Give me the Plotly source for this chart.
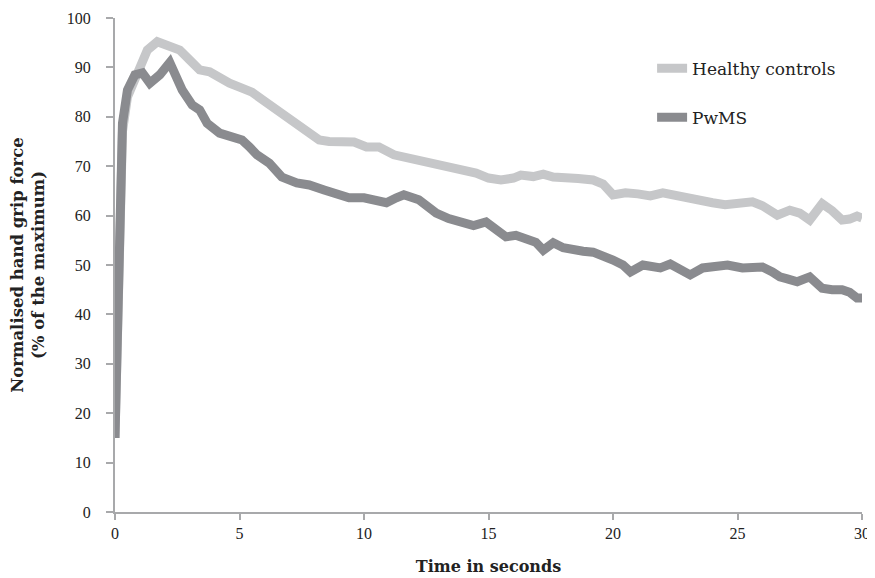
import plotly.graph_objects as go

# Healthy controls
t_healthy = [0, 0.07, 0.12, 0.2, 0.3, 0.5, 0.8, 1.0, 1.3, 1.7, 2.0,
             2.2, 2.6, 3.0, 3.4, 3.8, 4.3, 4.6, 5.0, 5.5, 6.1,
             6.7, 7.5, 8.2, 8.6, 9.0, 9.6, 10.1, 10.6, 11.2, 11.7,
             12.2, 12.7, 13.2, 13.9, 14.5, 15.0, 15.5, 16.0, 16.3, 16.8,
             17.2, 17.6, 18.1, 18.6, 19.2, 19.6, 20.0, 20.5, 21.0, 21.5,
             22.0, 22.5, 23.0, 23.5, 24.0, 24.5, 25.0, 25.6, 26.0, 26.6,
             27.1, 27.5, 27.9, 28.4, 28.8, 29.2, 29.5, 29.8, 30.0]
v_healthy = [15, 29, 48, 68, 77, 84, 88, 90.5, 93.5, 95.2, 94.7,
             94.1, 93.5, 91.5, 89.5, 89.1, 87.4, 86.8, 86.0, 85.0, 82.8,
             80.8, 77.9, 75.3, 75.0, 74.9, 74.9, 73.9, 73.9, 72.3, 71.8,
             70.9, 70.6, 70.2, 69.6, 68.6, 67.6, 67.2, 67.6, 68.2, 67.9,
             68.4, 67.8, 67.8, 67.5, 67.2, 66.4, 64.2, 64.6, 64.4, 64.0,
             64.6, 64.0, 63.8, 63.2, 62.6, 62.2, 62.3, 62.8, 62.0, 60.1,
             61.1, 60.5, 59.1, 62.4, 61.0, 59.1, 59.3, 59.9, 59.5]

# PwMS
t_pwms = [0, 0.07, 0.12, 0.2, 0.3, 0.5, 0.8, 1.1, 1.4, 1.8,
          2.2, 2.7, 3.1, 3.4, 3.7, 4.2, 4.7, 5.1, 5.4, 5.7,
          6.2, 6.7, 7.3, 7.8, 8.4, 8.9, 9.4, 10.0, 10.5, 10.9,
          11.3, 11.6, 12.2, 12.9, 13.4, 13.9, 14.4, 14.9, 15.3, 15.7,
          16.1, 16.5, 16.9, 17.2, 17.6, 18.0, 18.4, 18.8, 19.2, 19.6,
          20.0, 20.4, 20.7, 21.2, 21.6, 21.9, 22.3, 22.7, 23.1, 23.6,
          24.1, 24.6, 25.2, 25.6, 26.0, 26.4, 26.7, 27.0, 27.4, 27.9,
          28.4, 28.8, 29.2, 29.5, 29.8, 30.0]
v_pwms = [15, 30, 50, 70.6, 78.7, 85.4, 88.5, 88.9, 86.8, 88.5,
          91.0, 85.4, 82.4, 81.4, 78.7, 76.7, 75.7, 75.3, 73.9, 72.3,
          70.6, 67.8, 66.6, 66.2, 65.2, 64.2, 63.6, 63.6, 63.2, 62.6,
          63.6, 64.2, 63.2, 60.5, 59.4, 58.5, 58.0, 58.7, 57.2, 55.7,
          56.0, 55.5, 54.6, 53.0, 54.5, 53.5, 53.0, 52.8, 52.6, 52.0,
          51.0, 50.0, 48.6, 50.0, 49.4, 49.4, 50.2, 49.0, 48.0, 49.4,
          49.6, 50.0, 49.4, 49.6, 49.6, 48.6, 47.6, 47.2, 46.6, 47.6,
          45.3, 45.0, 45.0, 44.5, 43.3, 43.3]

x_ticks = [0, 5, 10, 15, 20, 25, 30]
y_ticks = [0, 10, 20, 30, 40, 50, 60, 70, 80, 90, 100]

series_names = ["Healthy controls", "PwMS"]
colors = ["#c6c7c9", "#8a8b8f"]

fig = go.Figure()
fig.add_trace(go.Scatter(x=t_healthy, y=v_healthy, mode="lines", name=series_names[0],
                         legendgroup="a",
                         line=dict(color=colors[0], width=9)))
fig.add_trace(go.Scatter(x=t_pwms, y=v_pwms, mode="lines", name=series_names[1],
                         legendgroup="b",
                         line=dict(color=colors[1], width=9)))

axis_font = dict(family="Liberation Serif", size=16, color="#222222")
axis_grey = "#a8a9ab"
pad = "\u00a0\u00a0\u00a0"  # gap between y tick labels and the tick marks

# page body has an 8px margin, so the figure is sized to fit inside the viewport
fig.update_layout(
    width=867, height=570,
    margin=dict(l=107, r=13, t=10, b=66, autoexpand=False),
    paper_bgcolor="white", plot_bgcolor="white",
    showlegend=True,
    legend=dict(x=0.719, y=0.934, xanchor="left", yanchor="top",
                font=dict(family="DejaVu Serif", size=17, color="#222222"),
                tracegroupgap=24, bgcolor="rgba(0,0,0,0)"),
    xaxis=dict(range=[0, 30], tickvals=x_ticks, ticktext=[str(v) for v in x_ticks],
               showgrid=False, zeroline=False, showline=True, linecolor=axis_grey,
               linewidth=2, ticks="outside", ticklen=6, tickwidth=2, tickcolor=axis_grey,
               tickfont=axis_font, automargin=False,
               title=dict(text="<b>Time in seconds</b>",
                          font=dict(family="DejaVu Serif", size=16, color="#222222"),
                          standoff=20)),
    yaxis=dict(range=[0, 100], tickvals=y_ticks, ticktext=[str(v) + pad for v in y_ticks],
               showgrid=False, zeroline=False, showline=True, linecolor=axis_grey,
               linewidth=2, ticks="outside", ticklen=7, tickwidth=2, tickcolor=axis_grey,
               tickfont=axis_font, automargin=False,
               title=dict(text="<b>Normalised hand grip force<br>(% of the maximum)</b>",
                          font=dict(family="DejaVu Serif", size=16.5, color="#222222"),
                          standoff=18)),
)

fig.write_html("out.html")
